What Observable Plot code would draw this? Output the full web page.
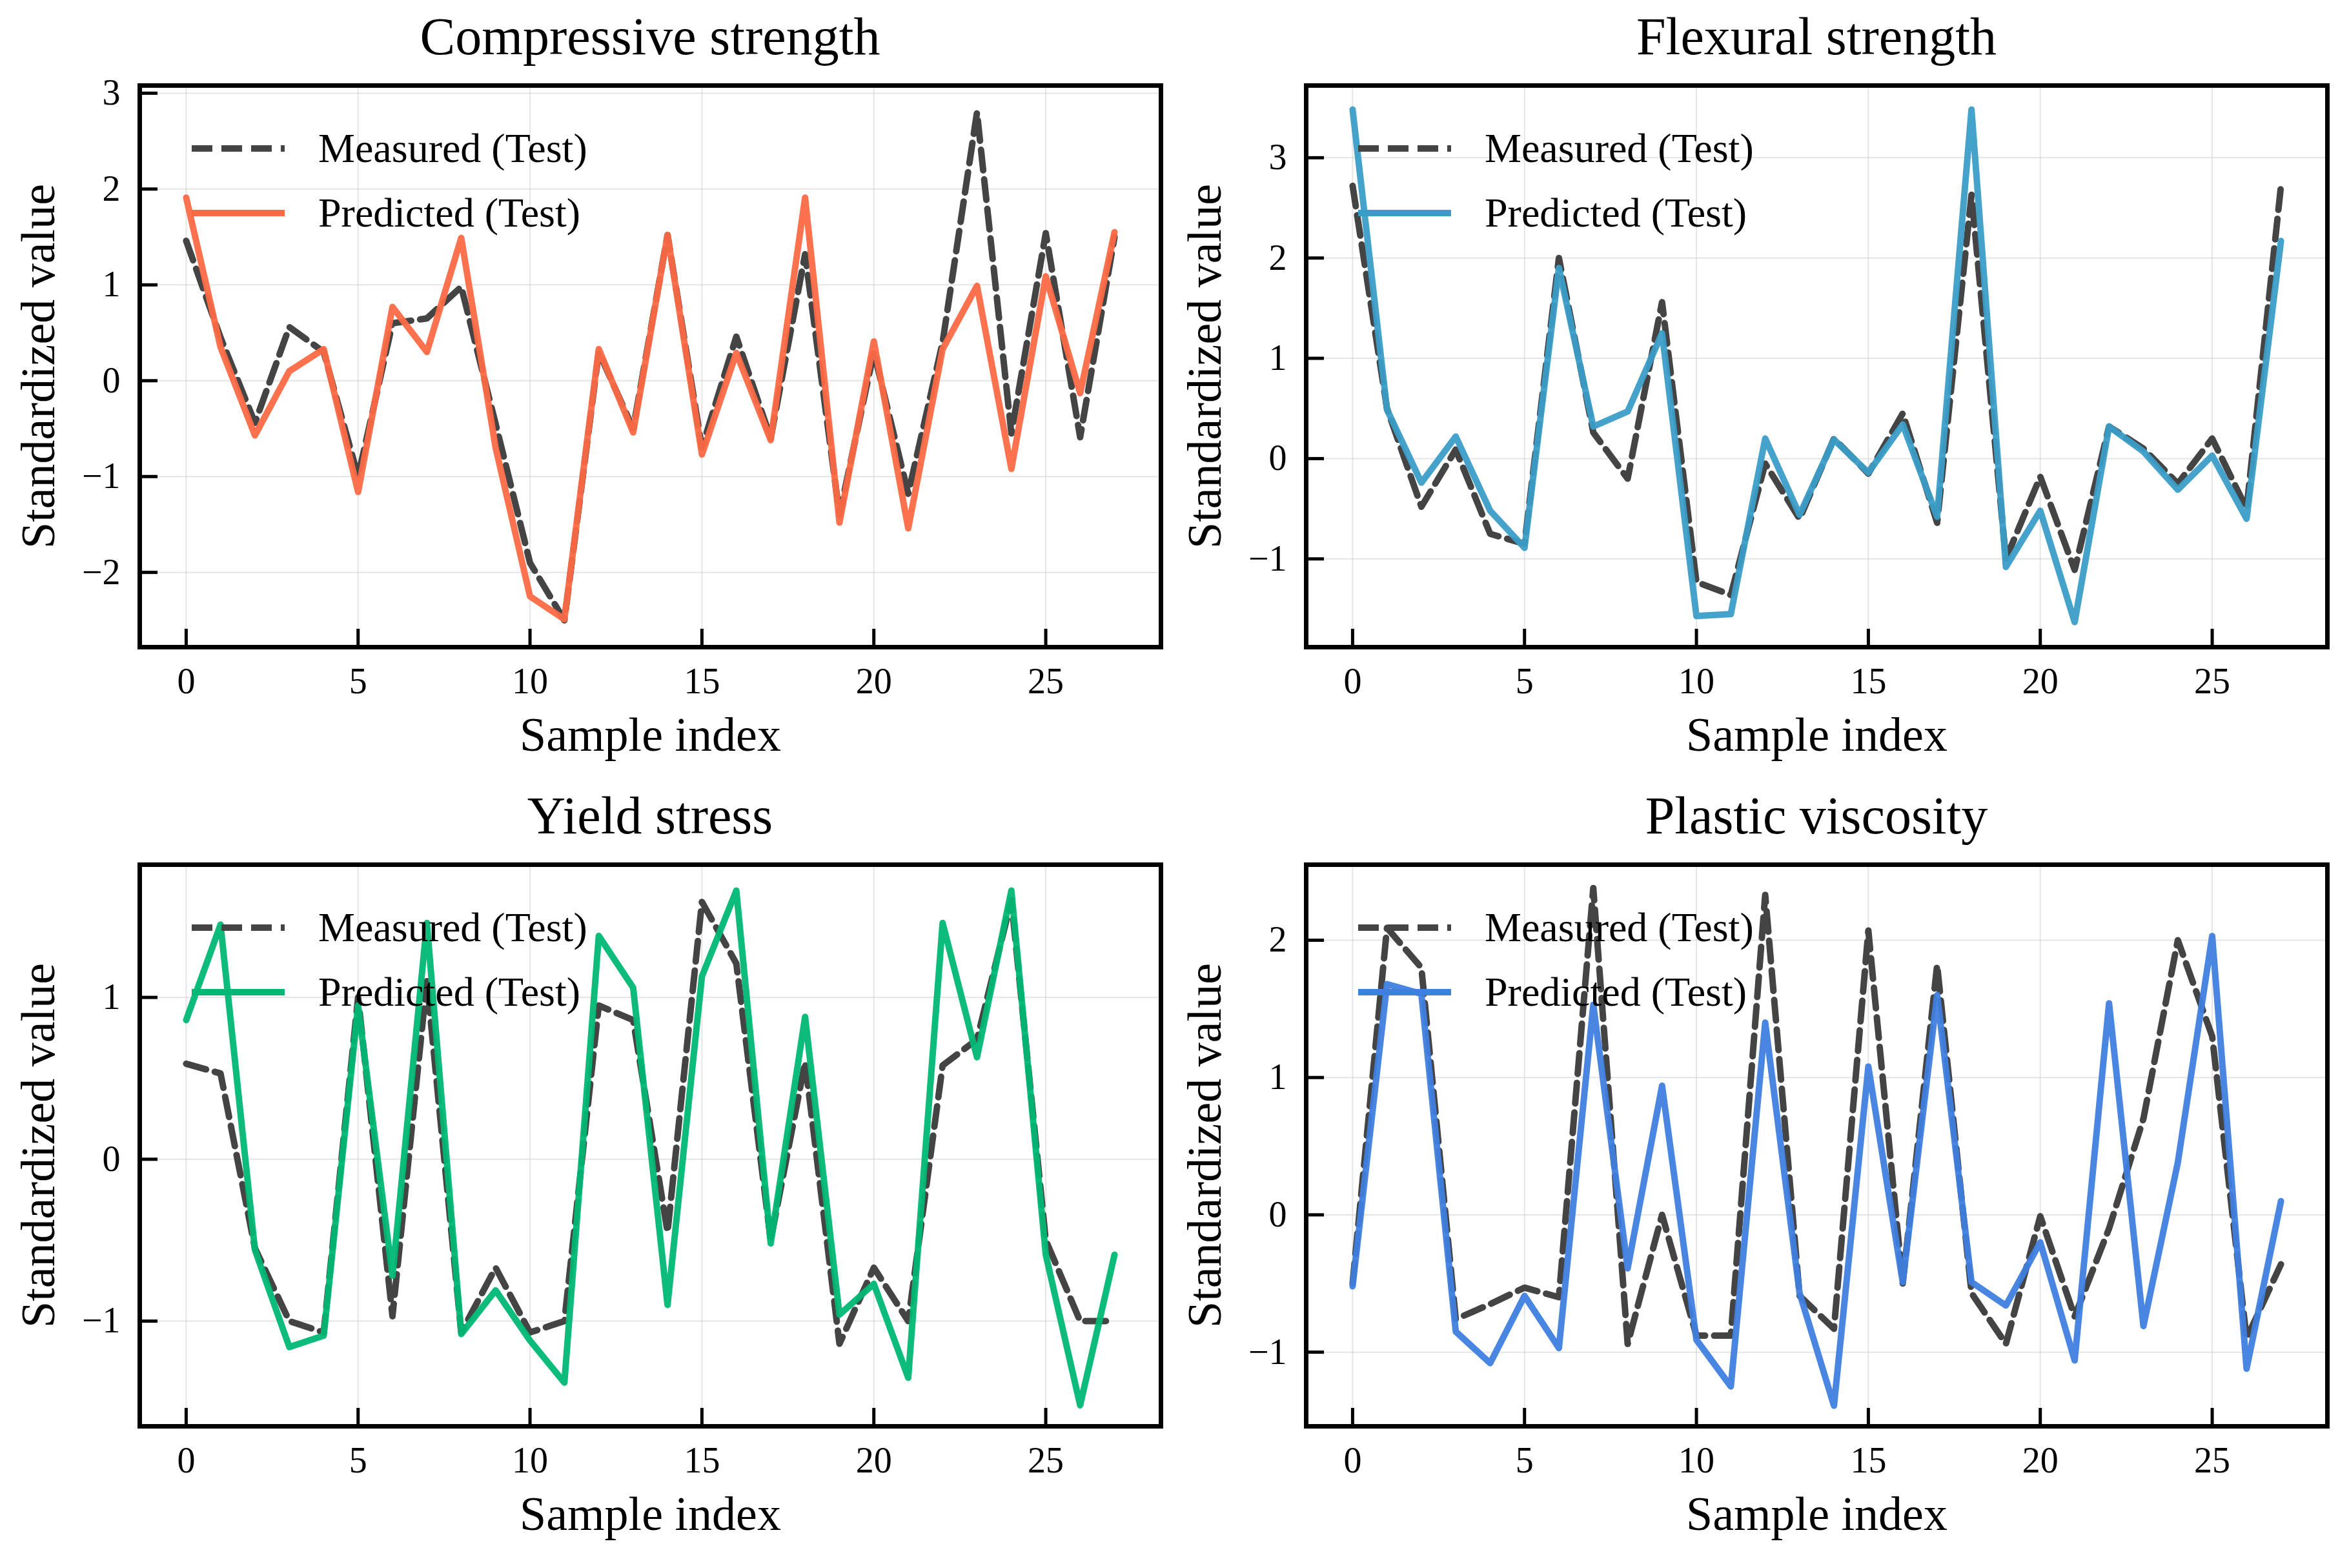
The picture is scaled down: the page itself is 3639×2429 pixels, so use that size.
<!DOCTYPE html>
<html><head><meta charset="utf-8">
<script src="https://cdn.jsdelivr.net/npm/d3@7"></script>
<script src="https://cdn.jsdelivr.net/npm/@observablehq/plot@0.6"></script>
<style>
body{margin:0;background:#fff;font-family:"Liberation Serif","DejaVu Serif",serif;}
#root{position:relative;width:3639px;height:2429px;}
.panel{position:absolute;width:1810px;}
.title{position:absolute;left:216px;width:1582px;text-align:center;font-size:82px;top:10px;}
.plot{position:absolute;left:0;top:110px;}
.legend{position:absolute;left:297px;top:180px;font-size:64px;}
.legend div{display:flex;align-items:center;height:100px;}
.legend svg{margin-right:52px;}
</style></head>
<body><div id="root"></div>
<script>
const idx = d3.range(28);
const compMeasured = [1.46,0.45,-0.44,0.56,0.3,-1.0,0.6,0.65,0.98,-0.45,-1.9,-2.5,0.3,-0.5,1.52,-0.7,0.46,-0.6,1.32,-1.4,0.3,-1.18,0.4,2.8,-0.55,1.54,-0.59,1.5];
const compPredicted = [1.91,0.35,-0.57,0.1,0.33,-1.16,0.77,0.3,1.49,-0.7,-2.25,-2.49,0.33,-0.54,1.52,-0.77,0.29,-0.62,1.91,-1.48,0.41,-1.54,0.33,0.99,-0.92,1.09,-0.13,1.55];
const flexMeasured = [2.72,0.5,-0.48,0.09,-0.75,-0.85,2.0,0.26,-0.2,1.56,-1.23,-1.36,-0.05,-0.6,0.2,-0.15,0.45,-0.64,2.63,-1.0,-0.18,-1.11,0.32,0.1,-0.25,0.2,-0.5,2.72];
const flexPredicted = [3.48,0.49,-0.24,0.22,-0.52,-0.89,1.9,0.32,0.47,1.25,-1.57,-1.55,0.2,-0.56,0.19,-0.14,0.34,-0.58,3.48,-1.08,-0.52,-1.63,0.32,0.07,-0.31,0.03,-0.6,2.17];
const yieldMeasured = [0.59,0.53,-0.55,-1.0,-1.07,1.0,-0.97,1.1,-1.07,-0.67,-1.07,-1.0,0.95,0.86,-0.45,1.59,1.21,-0.5,0.6,-1.14,-0.67,-1.0,0.58,0.74,1.6,-0.5,-1.0,-1.0];
const yieldPredicted = [0.86,1.45,-0.56,-1.16,-1.09,0.95,-0.72,1.46,-1.08,-0.81,-1.12,-1.38,1.38,1.06,-0.9,1.13,1.66,-0.52,0.88,-0.96,-0.77,-1.35,1.46,0.63,1.66,-0.59,-1.52,-0.59];
const viscMeasured = [-0.5,2.09,1.8,-0.76,-0.65,-0.53,-0.6,2.38,-0.94,0.0,-0.88,-0.88,2.33,-0.59,-0.83,2.07,-0.5,1.82,-0.57,-0.94,-0.01,-0.74,-0.1,0.7,2.0,1.3,-0.9,-0.36];
const viscPredicted = [-0.52,1.68,1.61,-0.85,-1.08,-0.59,-0.97,1.53,-0.39,0.94,-0.91,-1.25,1.4,-0.57,-1.39,1.08,-0.49,1.6,-0.49,-0.66,-0.2,-1.06,1.54,-0.81,0.38,2.03,-1.12,0.1];
const xTicks = [0,5,10,15,20,25];

const panels = [
  {title:"Compressive strength", m:compMeasured, p:compPredicted, color:"#fd6a45", dom:[-2.78,3.08], ticks:[-2,-1,0,1,2,3], left:0, top:0},
  {title:"Flexural strength", m:flexMeasured, p:flexPredicted, color:"#3a9dc8", dom:[-1.88,3.72], ticks:[-1,0,1,2,3], left:1807, top:0},
  {title:"Yield stress", m:yieldMeasured, p:yieldPredicted, color:"#00b874", dom:[-1.65,1.82], ticks:[-1,0,1], left:0, top:1207},
  {title:"Plastic viscosity", m:viscMeasured, p:viscPredicted, color:"#3f7fe0", dom:[-1.54,2.55], ticks:[-1,0,1,2], left:1807, top:1207}
];
const dash = "32,14";
const root = document.getElementById("root");
for (const P of panels) {
  const data = idx.map(i => ({i, m:P.m[i], p:P.p[i]}));
  const chart = Plot.plot({
    width:1810, height:1085,
    marginLeft:216, marginRight:12, marginTop:22, marginBottom:193,
    style:{fontFamily:"Liberation Serif, serif", fontSize:"56px", color:"#000", background:"transparent"},
    x:{domain:[-1.35,28.35]},
    y:{domain:P.dom},
    marks:[
      Plot.gridX(xTicks, {stroke:"#ccc", strokeOpacity:0.5, strokeWidth:2}),
      Plot.gridY(P.ticks, {stroke:"#ccc", strokeOpacity:0.5, strokeWidth:2}),
      Plot.line(data, {x:"i", y:"m", stroke:"#444", strokeWidth:10, strokeDasharray:dash}),
      Plot.line(data, {x:"i", y:"p", stroke:P.color, strokeWidth:10, strokeOpacity:0.95}),
      Plot.axisX(xTicks, {tickSize:0, tickPadding:32, label:"Sample index", labelArrow:"none", labelAnchor:"center", labelOffset:160, fontSize:56}),
      Plot.axisX(xTicks, {tickSize:-28, text:null, label:null, strokeWidth:5}),
      Plot.axisY(P.ticks, {tickSize:0, tickPadding:30, label:"Standardized value", labelArrow:"none", labelAnchor:"center", labelOffset:185, fontSize:56, tickFormat:d => d < 0 ? "\u2212"+Math.abs(d) : String(d)}),
      Plot.axisY(P.ticks, {tickSize:-28, text:null, label:null, strokeWidth:5}),
      Plot.frame({stroke:"#000", strokeWidth:7})
    ]
  });
  chart.querySelectorAll("g[aria-label='x-axis label'] text, g[aria-label='y-axis label'] text").forEach(t => { t.style.fontSize = "74px"; t.textContent = t.textContent.replace(/\s*[→↑]\s*/g, ""); });
  const div = document.createElement("div");
  div.className = "panel";
  div.style.left = P.left + "px"; div.style.top = P.top + "px"; div.style.height = "1200px";
  div.innerHTML = `<div class="title">${P.title}</div>`;
  const wrap = document.createElement("div"); wrap.className = "plot"; wrap.appendChild(chart);
  div.appendChild(wrap);
  const leg = document.createElement("div"); leg.className = "legend";
  leg.innerHTML = `<div><svg width="144" height="20"><line x1="0" y1="10" x2="144" y2="10" stroke="#444" stroke-width="10" stroke-dasharray="${dash}"/></svg>Measured (Test)</div>
  <div><svg width="144" height="20"><line x1="0" y1="10" x2="144" y2="10" stroke="${P.color}" stroke-width="10"/></svg>Predicted (Test)</div>`;
  div.appendChild(leg);
  root.appendChild(div);
}
</script></body></html>
